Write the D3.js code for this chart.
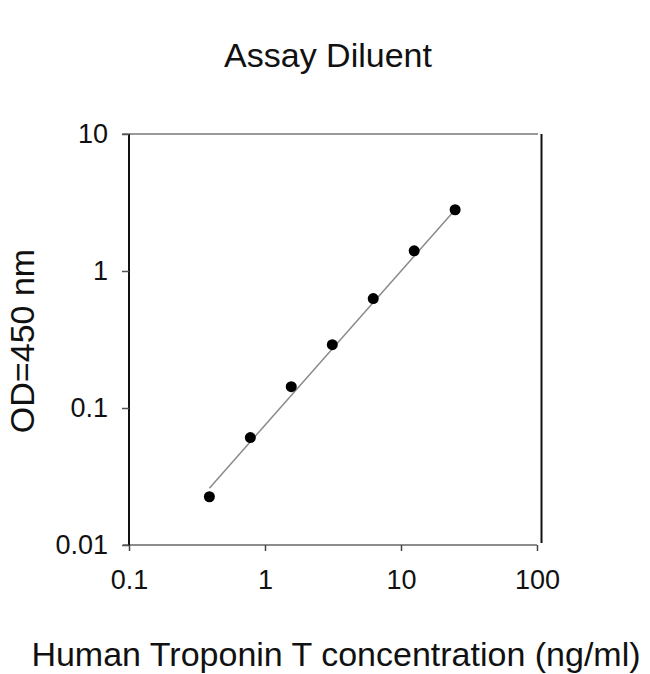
<!DOCTYPE html>
<html>
<head>
<meta charset="utf-8">
<script src="https://cdn.jsdelivr.net/npm/d3@7"></script>
<style>
  body { margin: 0; background: #fff; }
  text { font-family: "Liberation Sans", Arial, sans-serif; fill: #111; }
</style>
</head>
<body>
<div id="plot"></div>
<script>
// standard points
const conc = [0.39, 0.78, 1.56, 3.125, 6.25, 12.5, 25];
const od = [0.0225, 0.0608, 0.143, 0.29, 0.629, 1.405, 2.8];
// fitted line ends
const fitX = [0.39, 25];
const fitY = [0.026, 2.8];
const xTicks = [0.1, 1, 10, 100];
const yTicks = [0.01, 0.1, 1, 10];

const width = 650, height = 674;
const margin = { top: 134, right: 113, bottom: 129, left: 129 };

const svg = d3.select('#plot')
  .append('svg')
  .attr('width', width)
  .attr('height', height);

const x = d3.scaleLog().domain([0.1, 100]).range([margin.left, 537]);
const y = d3.scaleLog().domain([0.01, 10]).range([height - margin.bottom, margin.top]);

// frame: top & right
svg.append('line')
  .attr('x1', 122).attr('x2', 538)
  .attr('y1', y(10)).attr('y2', y(10))
  .attr('stroke', '#777').attr('stroke-width', 1.5);
svg.append('line')
  .attr('x1', 541.5).attr('x2', 541.5)
  .attr('y1', y(10)).attr('y2', y(0.01) - 2)
  .attr('stroke', '#111').attr('stroke-width', 2);

// x axis
const xAxis = svg.append('g')
  .attr('transform', `translate(0,${y(0.01)})`)
  .call(d3.axisBottom(x).tickValues(xTicks).tickFormat(d => String(d)).tickSize(6).tickPadding(19));
xAxis.select('.domain').attr('stroke', '#666').attr('stroke-width', 1.5)
  .attr('d', `M123,0H537`);
xAxis.selectAll('.tick line').attr('stroke', '#444').attr('stroke-width', 1.5);
xAxis.selectAll('.tick text').style('font-size', '27px').attr('fill', '#111');

// y axis
const yAxis = svg.append('g')
  .attr('transform', `translate(${x(0.1)},0)`)
  .call(d3.axisLeft(y).tickValues(yTicks).tickFormat(d => String(d)).tickSize(7).tickPadding(14));
yAxis.select('.domain').attr('stroke', '#111').attr('stroke-width', 2)
  .attr('d', `M0,${y(10)}V${y(0.01)}`);
yAxis.selectAll('.tick line').attr('stroke', '#555').attr('stroke-width', 1.5);
yAxis.selectAll('.tick text').style('font-size', '27px').attr('fill', '#111');

// fit line
const fit = fitX.map((d, i) => [d, fitY[i]]);
svg.append('path')
  .datum(fit)
  .attr('fill', 'none')
  .attr('stroke', '#8a8a8a')
  .attr('stroke-width', 1.5)
  .attr('d', d3.line().x(d => x(d[0])).y(d => y(d[1])));

// points
svg.selectAll('circle')
  .data(conc)
  .enter()
  .append('circle')
  .attr('cx', d => x(d))
  .attr('cy', (d, i) => y(od[i]))
  .attr('r', 5.5)
  .attr('fill', '#000');

// titles
svg.append('text')
  .attr('x', 328).attr('y', 67)
  .attr('text-anchor', 'middle')
  .style('font-size', '34px')
  .text('Assay Diluent');

svg.append('text')
  .attr('transform', 'translate(34,341) rotate(-90)')
  .attr('text-anchor', 'middle')
  .style('font-size', '34px')
  .text('OD=450 nm');

svg.append('text')
  .attr('x', 336).attr('y', 666)
  .attr('text-anchor', 'middle')
  .style('font-size', '34px')
  .text('Human Troponin T concentration (ng/ml)');
</script>
</body>
</html>
